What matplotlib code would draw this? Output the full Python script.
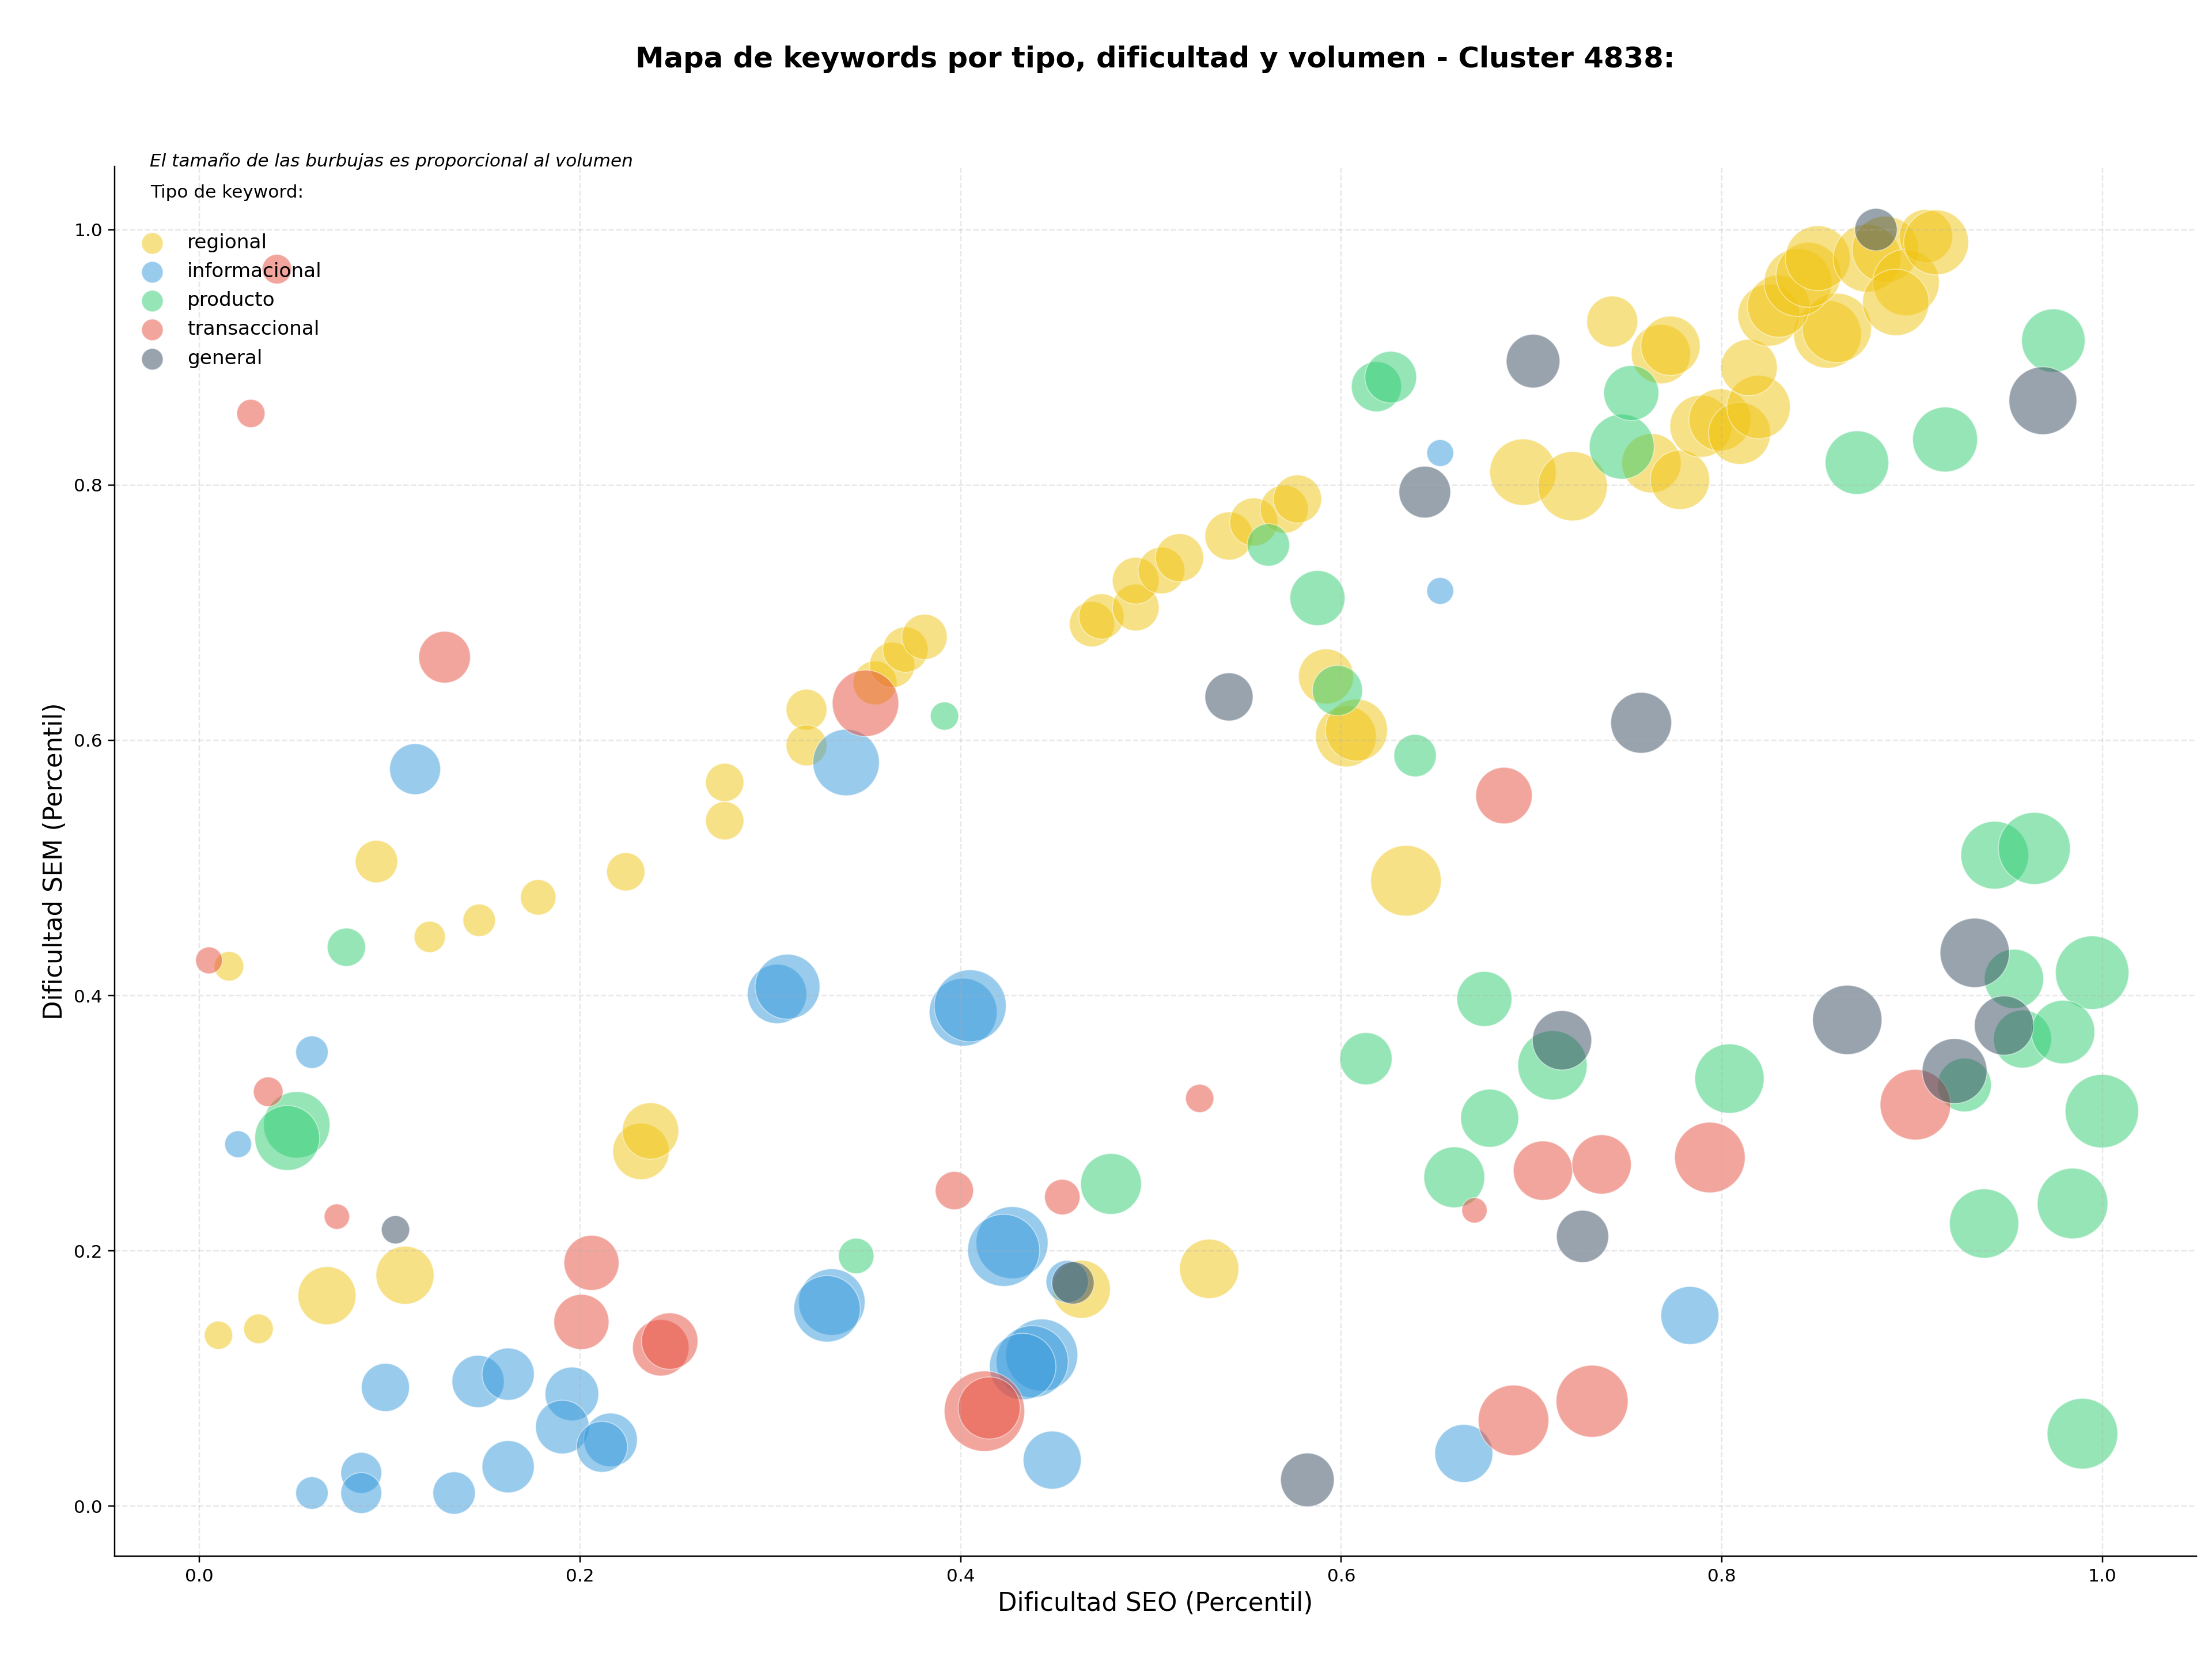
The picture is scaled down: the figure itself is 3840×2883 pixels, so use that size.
import matplotlib
matplotlib.use("Agg")
import matplotlib.pyplot as plt

# ── Datos (dificultad SEO, dificultad SEM, volumen relativo) ──
tipos = ["regional", "informacional", "producto", "transaccional", "general"]
colores = ["#f1c40f", "#3498db", "#2ecc71", "#e74c3c", "#34495e"]

seo_regional = [0.010, 0.031, 0.067, 0.108, 0.0155, 0.093, 0.121, 0.147, 0.178, 0.224,
                0.276, 0.276, 0.319, 0.319, 0.355, 0.364, 0.371, 0.381, 0.232, 0.237,
                0.4634, 0.5306, 0.634, 0.6025, 0.608, 0.592, 0.469, 0.474, 0.492, 0.492,
                0.5055, 0.515, 0.541, 0.554, 0.570, 0.577, 0.7424, 0.768, 0.773, 0.6955,
                0.7216, 0.763, 0.778, 0.789, 0.799, 0.8093, 0.8193, 0.8143, 0.8555, 0.8604,
                0.8247, 0.8298, 0.840, 0.8455, 0.8504, 0.8763, 0.8859, 0.8968, 0.8914, 0.9072,
                0.9126]
sem_regional = [0.134, 0.139, 0.165, 0.181, 0.423, 0.505, 0.446, 0.459, 0.477, 0.497,
                0.567, 0.537, 0.624, 0.596, 0.645, 0.659, 0.671, 0.681, 0.278, 0.294,
                0.170, 0.186, 0.490, 0.603, 0.608, 0.650, 0.691, 0.697, 0.704, 0.725,
                0.733, 0.743, 0.760, 0.771, 0.781, 0.789, 0.928, 0.9025, 0.909, 0.810,
                0.799, 0.817, 0.804, 0.846, 0.851, 0.8405, 0.861, 0.892, 0.918, 0.923,
                0.933, 0.940, 0.9586, 0.9646, 0.9776, 0.9776, 0.9845, 0.9586, 0.943, 0.9948,
                0.990]
vol_regional = [310, 340, 1310, 1310, 340, 700, 380, 410, 490, 570,
                570, 570, 650, 650, 750, 800, 800, 800, 1240, 1240,
                1310, 1370, 1940, 1440, 1500, 1180, 800, 800, 850, 850,
                850, 900, 900, 900, 900, 900, 1010, 1370, 1370, 1720,
                1870, 1370, 1370, 1500, 1500, 1500, 1570, 1240, 1790, 1870,
                1500, 1500, 1790, 1640, 1640, 1790, 1720, 1720, 1720, 1120,
                1640]

seo_informacional = [0.0591, 0.0203, 0.1133, 0.3398, 0.3035, 0.309, 0.4013, 0.405, 0.3323, 0.3298,
                     0.427, 0.4226, 0.4426, 0.4376, 0.4326, 0.4481, 0.456, 0.0977, 0.1464, 0.1622,
                     0.1957, 0.1907, 0.216, 0.2115, 0.0591, 0.085, 0.085, 0.1338, 0.1622, 0.652,
                     0.652, 0.6644, 0.7832]
sem_informacional = [0.3557, 0.2836, 0.5774, 0.5826, 0.4013, 0.407, 0.387, 0.392, 0.160, 0.1547,
                     0.2065, 0.2005, 0.1185, 0.1133, 0.1095, 0.0362, 0.176, 0.0931, 0.0978, 0.1035,
                     0.088, 0.0621, 0.052, 0.0466, 0.0104, 0.0262, 0.0104, 0.0104, 0.031, 0.825,
                     0.717, 0.0414, 0.1495]
vol_informacional = [410, 280, 1010, 1720, 1370, 1640, 1790, 2020, 1720, 1720,
                     2020, 2020, 2020, 2020, 1720, 1310, 700, 900, 1060, 1060,
                     1120, 1120, 1120, 1010, 410, 650, 650, 700, 1060, 280,
                     280, 1310, 1310]

seo_producto = [0.0511, 0.0461, 0.0772, 0.3451, 0.3915, 0.479, 0.5617, 0.5875, 0.598, 0.6388,
                0.6185, 0.626, 0.613, 0.6752, 0.678, 0.6594, 0.711, 0.7474, 0.7524, 0.804,
                0.871, 0.9173, 0.9742, 0.9434, 0.9642, 0.9535, 0.9946, 0.958, 0.9793, 0.9275,
                0.9997, 0.9843, 0.9378, 0.9895]
sem_producto = [0.2988, 0.2885, 0.4379, 0.1961, 0.619, 0.2525, 0.753, 0.7114, 0.639, 0.588,
                0.877, 0.8844, 0.3506, 0.3974, 0.304, 0.2577, 0.3454, 0.830, 0.872, 0.335,
                0.8175, 0.8356, 0.913, 0.510, 0.5153, 0.4131, 0.418, 0.366, 0.3715, 0.330,
                0.3095, 0.2372, 0.2215, 0.0569]
vol_producto = [1720, 1640, 570, 490, 310, 1440, 700, 1180, 980, 700,
                980, 1040, 1060, 1180, 1310, 1440, 1870, 1640, 1180, 1870,
                1570, 1640, 1570, 1790, 2020, 1370, 2100, 1310, 1570, 1120,
                2100, 1940, 1870, 1940]

seo_transaccional = [0.0407, 0.027, 0.1288, 0.005, 0.0361, 0.0722, 0.206, 0.2007, 0.2424, 0.2471,
                     0.350, 0.3967, 0.4534, 0.5256, 0.4125, 0.415, 0.6855, 0.670, 0.706, 0.7368,
                     0.7937, 0.6905, 0.7318, 0.9017]
sem_transaccional = [0.969, 0.856, 0.6651, 0.4276, 0.3247, 0.2269, 0.1907, 0.1444, 0.1242, 0.1294,
                     0.629, 0.2473, 0.2422, 0.3195, 0.0745, 0.077, 0.5567, 0.2318, 0.2629, 0.2678,
                     0.2732, 0.0673, 0.0823, 0.3146]
vol_transaccional = [340, 310, 1040, 280, 340, 250, 1180, 1180, 1240, 1240,
                     1720, 570, 490, 310, 2520, 1500, 1240, 250, 1370, 1370,
                     1940, 1940, 2020, 1940]

seo_general = [0.103, 0.459, 0.5822, 0.541, 0.6439, 0.7008, 0.7576, 0.716, 0.7268, 0.8659,
               0.9329, 0.9483, 0.9223, 0.9687, 0.881]
sem_general = [0.2166, 0.175, 0.0207, 0.634, 0.7944, 0.897, 0.6137, 0.365, 0.2114, 0.381,
               0.4335, 0.3766, 0.3409, 0.866, 1.0]
vol_general = [310, 700, 1120, 900, 1040, 1120, 1440, 1370, 1060, 1870,
               1870, 1370, 1640, 1790, 700]

datos = {
    "regional": (seo_regional, sem_regional, vol_regional),
    "informacional": (seo_informacional, sem_informacional, vol_informacional),
    "producto": (seo_producto, sem_producto, vol_producto),
    "transaccional": (seo_transaccional, sem_transaccional, vol_transaccional),
    "general": (seo_general, sem_general, vol_general),
}

# ── Estilo (escala un poco mayor que la de por defecto) ──
k = 1.12
plt.rcParams.update({
    "font.size": 10 * k,
    "axes.linewidth": 0.8 * k,
    "xtick.major.size": 3.5 * k,
    "ytick.major.size": 3.5 * k,
    "xtick.major.width": 0.8 * k,
    "ytick.major.width": 0.8 * k,
    "grid.linewidth": 0.8 * k,
})

# ── Figura ──
fig, ax = plt.subplots(figsize=(19.2, 14.415), dpi=200)
fig.subplots_adjust(left=0.0517, right=0.993, top=0.8998, bottom=0.0631)

for tipo, color in zip(tipos, colores):
    x, y, vol = datos[tipo]
    ax.scatter(x, y, s=vol, c=color, alpha=0.5, edgecolors="white", linewidths=0.6, label=tipo)

ax.set_xlabel("Dificultad SEO (Percentil)", fontsize=14 * k)
ax.set_ylabel("Dificultad SEM (Percentil)", fontsize=14 * k)
ax.set_title("Mapa de keywords por tipo, dificultad y volumen - Cluster 4838:",
             fontsize=16 * k, fontweight="bold", pad=62)

ax.grid(True, linestyle="--", alpha=0.3)
ax.spines["top"].set_visible(False)
ax.spines["right"].set_visible(False)

ax.text(0.017, 1.0, "El tamaño de las burbujas es proporcional al volumen",
        transform=ax.transAxes, fontsize=10 * k, style="italic", va="baseline")

leg = ax.legend(title="Tipo de keyword:\n", loc="upper left", frameon=False,
                fontsize=11 * k, title_fontsize=10 * k)
leg.get_title().set_linespacing(1.45)
for h in leg.legend_handles:
    h.set_sizes([180])

fig.savefig("out.png", dpi=200)
